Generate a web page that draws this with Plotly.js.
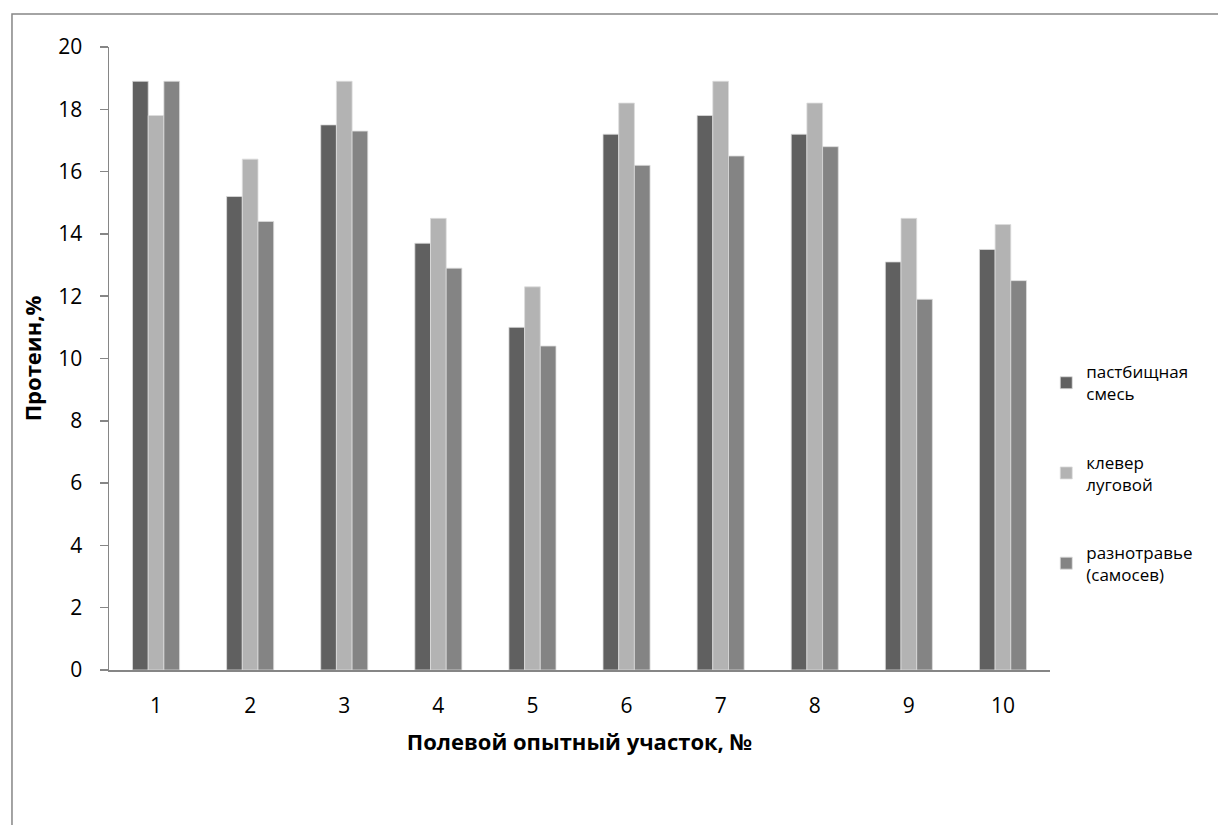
<!DOCTYPE html>
<html>
<head>
<meta charset="utf-8">
<script src="https://cdn.plot.ly/plotly-3.0.1.min.js"></script>
<style>
  html, body { margin: 0; padding: 0; background: #ffffff; }
  #chart { width: 1218px; height: 825px; }
</style>
</head>
<body>
<div id="chart"></div>
<script>
// Field plot numbers
const plots = ['1', '2', '3', '4', '5', '6', '7', '8', '9', '10'];

// Protein content, %
const pastureMix = [18.9, 15.2, 17.5, 13.7, 11.0, 17.2, 17.8, 17.2, 13.1, 13.5];
const redClover  = [17.8, 16.4, 18.9, 14.5, 12.3, 18.2, 18.9, 18.2, 14.5, 14.3];
const forbs      = [18.9, 14.4, 17.3, 12.9, 10.4, 16.2, 16.5, 16.8, 11.9, 12.5];

const seriesNames = ['пастбищная<br>смесь', 'клевер<br>луговой', 'разнотравье<br>(самосев)'];
const seriesColors = ['#606060', '#b3b3b3', '#848484'];
const yTicks = [0, 2, 4, 6, 8, 10, 12, 14, 16, 18, 20];

const FONT = '"Open Sans", "Noto Sans", "DejaVu Sans", sans-serif';

const traces = [pastureMix, redClover, forbs].map((vals, i) => ({
  type: 'bar',
  x: plots,
  y: vals,
  name: seriesNames[i],
  legendgroup: 'g' + i,
  marker: { color: seriesColors[i], line: { color: '#dcdcdc', width: 0.8 } },
  hoverinfo: 'x+y+name'
}));

const layout = {
  width: 1218,
  height: 825,
  margin: { l: 109, r: 168, t: 47, b: 155 },
  paper_bgcolor: '#ffffff',
  plot_bgcolor: '#ffffff',
  font: { family: FONT, size: 18, color: '#000000' },
  barmode: 'group',
  bargap: 0.5,
  bargroupgap: 0,
  showlegend: true,
  legend: {
    x: 0.996, xanchor: 'left',
    y: 0.507, yanchor: 'top',
    font: { family: FONT, size: 17, color: '#000000' },
    tracegroupgap: 43,
    itemwidth: 30,
    bgcolor: 'rgba(0,0,0,0)'
  },
  xaxis: {
    type: 'category',
    showline: true, linecolor: '#868686', linewidth: 1.5,
    ticks: '', showgrid: false, zeroline: false,
    tickfont: { family: FONT, size: 21, color: '#000000' },
    ticklabelstandoff: 16,
    title: {
      text: '<b>Полевой опытный участок, №</b>',
      font: { family: FONT, size: 22, color: '#000000' },
      standoff: 17
    }
  },
  yaxis: {
    range: [0, 20],
    tickvals: yTicks,
    showline: true, linecolor: '#868686', linewidth: 1.5,
    ticks: 'outside', ticklen: 8, tickcolor: '#868686', tickwidth: 1.5,
    showgrid: false, zeroline: false,
    tickfont: { family: FONT, size: 21, color: '#000000' },
    ticklabelstandoff: 13,
    title: {
      text: '<b>Протеин,%</b>',
      font: { family: FONT, size: 22, color: '#000000' },
      standoff: 10
    }
  },
  shapes: [{
    type: 'rect', xref: 'paper', yref: 'paper',
    x0: -0.1031, x1: 1.5, y0: -0.5, y1: 1.053,
    line: { color: '#868686', width: 1.5 },
    fillcolor: 'rgba(0,0,0,0)', layer: 'below'
  }]
};

Plotly.newPlot('chart', traces, layout, { displayModeBar: false, staticPlot: true });
</script>
</body>
</html>
